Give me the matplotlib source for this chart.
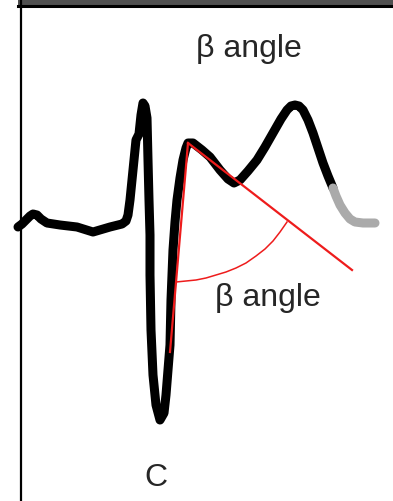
import matplotlib
matplotlib.use("Agg")
import matplotlib.pyplot as plt

# ECG trace (pixel coordinates, y grows downward)
trace_x = [18, 22, 26, 30, 33, 37, 41, 47, 60, 77, 93, 110, 122, 126, 128, 130, 132, 134,
           136, 139, 141, 143, 145, 147, 148, 149, 150, 150, 151, 153, 156, 160, 164,
           166, 168, 170, 171, 173, 175, 177, 180, 183, 186, 188, 193, 202, 210, 220,
           228, 234, 240, 248, 257, 265, 273, 281, 287, 291, 295, 299, 303, 308, 313,
           318, 323, 328, 333]
trace_y = [227, 224, 220, 216, 214, 215, 219, 223, 225, 227, 232, 227, 224, 221, 215, 200,
           180, 160, 140, 134, 115, 103, 106, 118, 160, 200, 235, 275, 330, 375, 405, 420, 413,
           395, 370, 345, 300, 250, 222, 200, 178, 160, 148, 143, 143, 150, 157, 170,
           179, 183, 180, 171, 160, 147, 133, 119, 110, 106, 105, 106, 110, 120, 133,
           148, 163, 176, 188]
tail_x = [333, 336, 340, 345, 350, 355, 363, 375]
tail_y = [188, 196, 205, 213, 219, 222, 223, 223]

# beta angle construction
vertex = (188, 143)
leg1_end = (170, 352)
leg2_end = (352, 270)
arc_x = [176, 186, 196, 206, 216, 226, 236, 246, 256, 265, 273, 280, 287]
arc_y = [282, 281, 280, 278, 275, 272, 268, 263, 256, 249, 241, 232, 222]

labels = ["\u03b2 angle", "\u03b2 angle", "C"]
label_x = [249, 268, 156]
label_y = [49, 298, 478]

fig = plt.figure(figsize=(3.93, 5.01), dpi=100)
ax = fig.add_axes([0, 0, 1, 1])
ax.set_xlim(0, 393)
ax.set_ylim(501, 0)
ax.axis("off")

# frame bits
ax.fill_between([18, 393], 0, 4.5, color="#505050", lw=0)
ax.plot([18, 393], [5.5, 5.5], color="black", lw=2.2)
ax.plot([21, 21], [0, 501], color="black", lw=1.6)

ax.plot(trace_x, trace_y, color="black", lw=6.5, solid_capstyle="round",
        solid_joinstyle="round")
ax.plot(tail_x, tail_y, color="#aaaaaa", lw=6.5, solid_capstyle="round",
        solid_joinstyle="round")

ax.plot([vertex[0], leg1_end[0]], [vertex[1], leg1_end[1]], color="#ee1c1c", lw=1.6)
ax.plot([vertex[0], leg2_end[0]], [vertex[1], leg2_end[1]], color="#ee1c1c", lw=1.6)
ax.plot(arc_x, arc_y, color="#ee1c1c", lw=1.1)

for t, x, y in zip(labels, label_x, label_y):
    ax.text(x, y, t, ha="center", va="center", fontsize=23,
            family="Liberation Sans", color="#262626")

fig.savefig("out.png", dpi=100)
